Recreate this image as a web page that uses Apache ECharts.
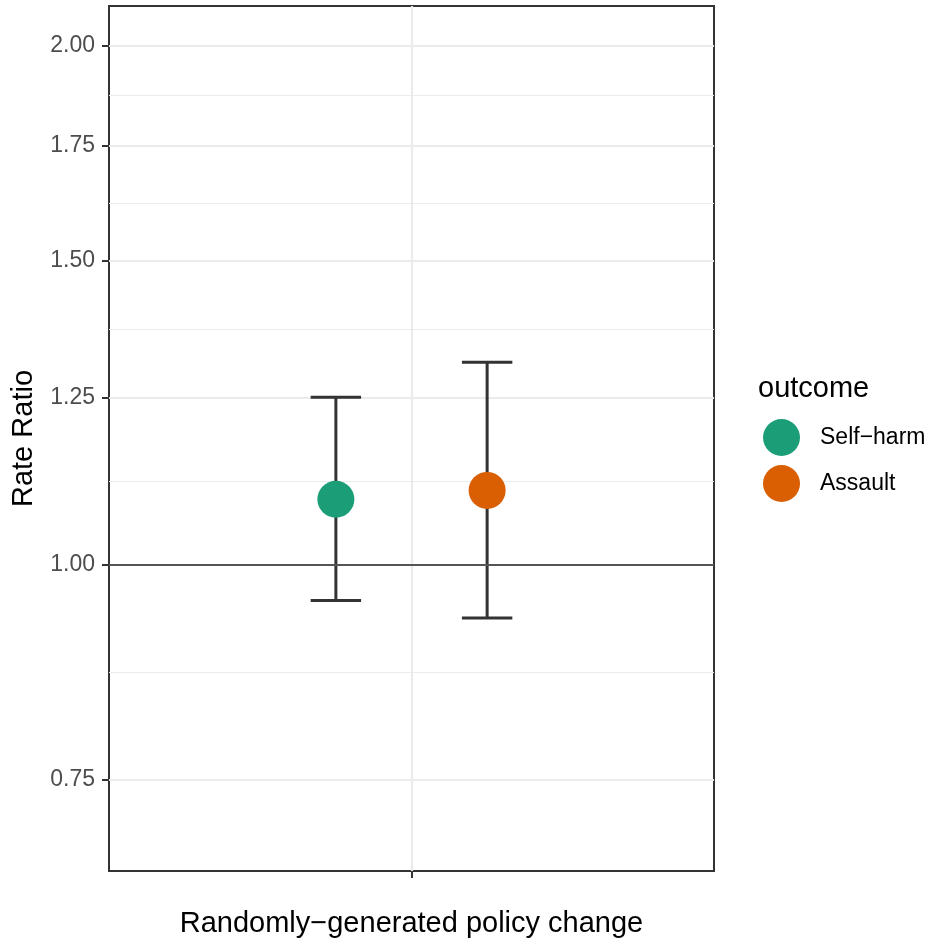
<!DOCTYPE html>
<html>
<head>
<meta charset="utf-8">
<title>Rate Ratio</title>
<script src="https://cdn.jsdelivr.net/npm/echarts@6/dist/echarts.min.js"></script>
<style>
  html, body { margin: 0; padding: 0; background: #ffffff; }
  #chart { width: 933px; height: 941px; }
</style>
</head>
<body>
<div id="chart"></div>
<script>
// Estimated rate ratios with confidence intervals, one per outcome
const outcomes = ['Self\u2212harm', 'Assault'];
const rateRatio = [1.091, 1.104];
const ciLower = [0.953, 0.931];
const ciUpper = [1.250, 1.310];
const outcomeColors = ['#1B9E77', '#D95F02'];

// Axis breaks and limits (rate-ratio units, drawn on a log scale)
const yTicks = [0.75, 1.00, 1.25, 1.50, 1.75, 2.00];
const yLimits = [0.7, 2.0];
const referenceRatio = 1.0;
const xCategory = 'Randomly\u2212generated policy change';

const FONT = '"Liberation Sans", Arial, Helvetica, sans-serif';

// log transform used by the y axis
const lg = Math.log;
const span = lg(yLimits[1]) - lg(yLimits[0]);
const yMin = lg(yLimits[0]) - span * 0.05;
const yMax = lg(yLimits[1]) + span * 0.05;

// minor grid lines sit halfway between major breaks in log space
const yMinor = [];
for (let i = 0; i < yTicks.length - 1; i++) {
  yMinor.push((lg(yTicks[i]) + lg(yTicks[i + 1])) / 2);
}

// dodge the two outcomes around the single category position
const dodge = 0.15;
const xPos = outcomes.map((_, i) => 1 + (i - (outcomes.length - 1) / 2) * 2 * dodge);
const capHalf = 0.05;

const chart = echarts.init(document.getElementById('chart'), null, { renderer: 'canvas' });

const errorSeries = {
  type: 'custom',
  name: 'ci',
  silent: true,
  z: 3,
  data: outcomes.map((o, i) => [xPos[i], lg(ciLower[i]), lg(ciUpper[i])]),
  renderItem: function (params, api) {
    const x = api.value(0);
    const lo = api.coord([x, api.value(1)]);
    const hi = api.coord([x, api.value(2)]);
    const half = api.size([capHalf, 0])[0];
    const style = { stroke: '#333333', lineWidth: 3 };
    return {
      type: 'group',
      children: [
        { type: 'line', shape: { x1: lo[0], y1: lo[1], x2: hi[0], y2: hi[1] }, style: style },
        { type: 'line', shape: { x1: hi[0] - half, y1: hi[1], x2: hi[0] + half, y2: hi[1] }, style: style },
        { type: 'line', shape: { x1: lo[0] - half, y1: lo[1], x2: lo[0] + half, y2: lo[1] }, style: style }
      ]
    };
  }
};

const pointSeries = outcomes.map((o, i) => ({
  type: 'scatter',
  name: o,
  symbol: 'circle',
  symbolSize: 37,
  z: 4,
  itemStyle: { color: outcomeColors[i], opacity: 1 },
  data: [[xPos[i], lg(rateRatio[i])]],
  markLine: i === 0 ? {
    silent: true,
    symbol: ['none', 'none'],
    label: { show: false },
    lineStyle: { color: '#555555', width: 2, type: 'solid' },
    data: [{ yAxis: lg(referenceRatio) }],
    animation: false
  } : undefined
}));

const option = {
  animation: false,
  backgroundColor: '#ffffff',
  textStyle: { fontFamily: FONT },
  grid: {
    left: 109, right: 219, top: 6, bottom: 70,
    outerBoundsMode: 'none',
    containLabel: false,
    show: true, borderColor: '#333333', borderWidth: 2, backgroundColor: 'transparent'
  },
  legend: {
    orient: 'vertical',
    left: 763,
    top: 419,
    padding: 0,
    itemWidth: 37,
    itemHeight: 37,
    itemGap: 9,
    icon: 'circle',
    data: outcomes,
    selectedMode: false,
    textStyle: { fontFamily: FONT, fontSize: 23, color: '#000000', padding: [0, 0, 0, 15] }
  },
  graphic: [{
    type: 'text',
    left: 758,
    top: 374,
    style: { text: 'outcome', font: '29px ' + FONT, fill: '#000000' }
  }],
  xAxis: [{
    type: 'value',
    min: 0.4,
    max: 1.6,
    name: xCategory,
    nameLocation: 'middle',
    nameGap: 38,
    nameTextStyle: { fontFamily: FONT, fontSize: 29, color: '#000000' },
    axisLine: { show: false, onZero: false },
    axisTick: { show: true, length: 7, lineStyle: { color: '#333333', width: 2 }, customValues: [1] },
    axisLabel: { show: true, customValues: [1], formatter: () => '' },
    splitLine: { show: true, lineStyle: { color: '#EBEBEB', width: 2.2 } },
    minorSplitLine: { show: false }
  }],
  yAxis: [{
    type: 'value',
    min: yMin,
    max: yMax,
    name: 'Rate Ratio',
    nameLocation: 'middle',
    nameRotate: 90,
    nameGap: 71,
    nameTextStyle: { fontFamily: FONT, fontSize: 29, color: '#000000' },
    axisLine: { show: false, onZero: false },
    axisTick: { show: true, length: 7, lineStyle: { color: '#333333', width: 2 }, customValues: yTicks.map(lg) },
    axisLabel: {
      show: true,
      customValues: yTicks.map(lg),
      margin: 14,
      fontFamily: FONT,
      fontSize: 23,
      color: '#4D4D4D',
      formatter: v => Math.exp(v).toFixed(2)
    },
    splitLine: { show: true, lineStyle: { color: '#EBEBEB', width: 2.2 } }
  }, {
    // carries the minor grid lines only
    type: 'value',
    min: yMin,
    max: yMax,
    position: 'left',
    axisLine: { show: false, onZero: false },
    axisTick: { show: false, customValues: yMinor },
    axisLabel: { show: false, customValues: yMinor },
    splitLine: { show: true, lineStyle: { color: '#EBEBEB', width: 1.1 } },
    z: 0
  }],
  series: [errorSeries].concat(pointSeries)
};

chart.setOption(option);
</script>
</body>
</html>
